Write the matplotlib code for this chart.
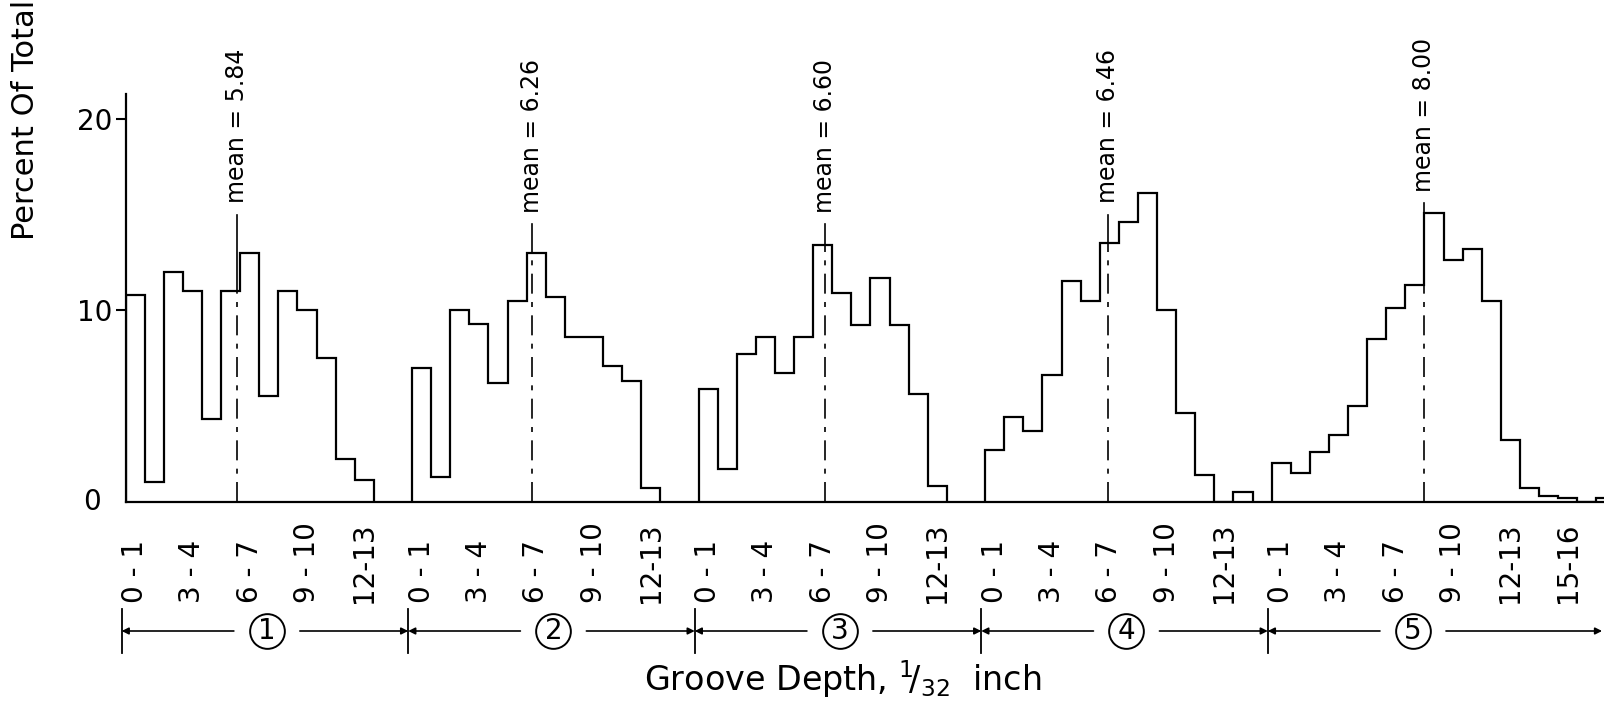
import numpy as np
import matplotlib.pyplot as plt
from matplotlib.transforms import blended_transform_factory

# percent of total in each 1/32 inch depth bin (0-1, 1-2, ...), one list per group
group1 = [10.8, 1.0, 12.0, 11.0, 4.3, 11.0, 13.0, 5.5, 11.0, 10.0, 7.5, 2.2, 1.1]
group2 = [7.0, 1.3, 10.0, 9.3, 6.2, 10.5, 13.0, 10.7, 8.6, 8.6, 7.1, 6.3, 0.7]
group3 = [5.9, 1.7, 7.7, 8.6, 6.7, 8.6, 13.4, 10.9, 9.2, 11.7, 9.2, 5.6, 0.8]
group4 = [2.7, 4.4, 3.7, 6.6, 11.5, 10.5, 13.5, 14.6, 16.1, 10.0, 4.6, 1.4, 0.0, 0.5]
group5 = [2.0, 1.5, 2.6, 3.5, 5.0, 8.5, 10.1, 11.3, 15.1, 12.6, 13.2, 10.5, 3.2,
          0.7, 0.3, 0.2, 0.0, 0.2]
groups = [group1, group2, group3, group4, group5]
group_names = ['1', '2', '3', '4', '5']

means = [5.84, 6.26, 6.60, 6.46, 8.00]
mean_tops = [15.0, 14.5, 14.5, 15.0, 15.6]

tick_bins = [0, 3, 6, 9, 12, 15]
tick_labels = ['0 - 1', '3 - 4', '6 - 7', '9 - 10', '12-13', '15-16']

slot = 15  # bins reserved for each group along the axis

W, H = 1604, 702
fig = plt.figure(figsize=(W / 100, H / 100), dpi=100)
ax = fig.add_axes([125.5 / W, (H - 501.5) / H, 1 - 125.5 / W, 407.5 / H])
ax.set_xlim(0, 77.4)
ax.set_ylim(0, 21.3)

for s in ['top', 'right']:
    ax.spines[s].set_visible(False)
for s in ['left', 'bottom']:
    ax.spines[s].set_linewidth(1.6)

ax.set_xticks([])
ax.set_yticks([10, 20])
ax.set_yticklabels(['10', '20'], fontsize=20)
ax.tick_params(axis='y', length=7.2, width=1.5, pad=2.2)
ax.text(-25 / 19.1, 0, '0', fontsize=20, ha='right', va='center')

trans = blended_transform_factory(ax.transData, fig.transFigure)
arrow_y = (H - 631) / H
div_lo, div_hi = (H - 653) / H, (H - 609) / H
label_y = (H - 603) / H
gap = 33 / 19.1

for g, vals in enumerate(groups):
    start = g * slot
    edges = start + np.arange(len(vals) + 1)
    ax.stairs(vals, edges, baseline=0, color='k', lw=1.6)

    # mean line: dash-dot inside the histogram, solid above it
    mx = start + means[g]
    h = vals[int(means[g])]
    ax.plot([mx, mx], [0, h], color='k', lw=1.2, ls=(0, (12, 5, 3, 5)))
    ax.plot([mx, mx], [h, mean_tops[g]], color='k', lw=1.2)
    ax.text(mx, mean_tops[g] + 0.6, 'mean = %.2f' % means[g], rotation=90,
            ha='center', va='bottom', fontsize=17)

    # depth labels under the axis
    for b, lab in zip(tick_bins, tick_labels):
        if b < len(vals) and (b < 15 or g == 4):
            ax.text(start + b + 0.5, label_y, lab, transform=trans, rotation=90,
                    ha='center', va='bottom', fontsize=20)

    # group bracket with circled number
    left = start - 0.2
    right = start + slot - 0.2 if g < 4 else 77.3
    cx = start + 7.4
    ax.plot([left, left], [div_lo, div_hi], color='k', lw=1.3,
            transform=trans, clip_on=False)
    ap = dict(arrowstyle='-|>', color='k', lw=1.2, mutation_scale=10,
              shrinkA=0, shrinkB=0)
    ax.annotate('', xy=(left, arrow_y), xytext=(cx - gap, arrow_y),
                xycoords=trans, textcoords=trans, arrowprops=ap,
                annotation_clip=False)
    ax.annotate('', xy=(right, arrow_y), xytext=(cx + gap, arrow_y),
                xycoords=trans, textcoords=trans, arrowprops=ap,
                annotation_clip=False)
    ax.plot([cx], [arrow_y], 'o', ms=25, mfc='white', mec='k', mew=1.4,
            transform=trans, clip_on=False)
    ax.text(cx, arrow_y, group_names[g], transform=trans, ha='center',
            va='center', fontsize=20)

fig.text(26 / W, (H - 120) / H, 'Percent Of Total', rotation=90,
         ha='center', va='center', fontsize=22)
fig.text(843 / W, (H - 691) / H, r'Groove Depth, $^{1}\!/_{32}$  inch',
         ha='center', va='baseline', fontsize=24)

fig.savefig('out.png', dpi=100)
